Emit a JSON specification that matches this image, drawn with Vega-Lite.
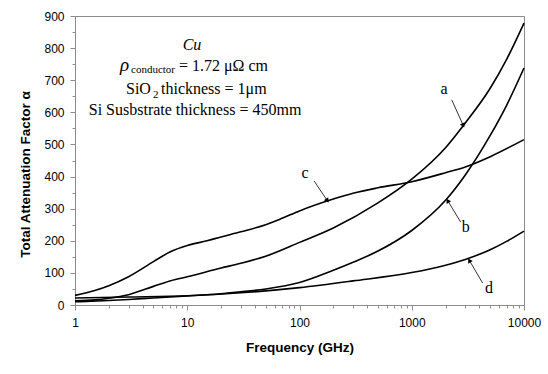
{
  "$schema": "https://vega.github.io/schema/vega-lite/v6.json",
  "width": 449,
  "height": 289,
  "autosize": {"type": "none"},
  "padding": {"left": 75, "top": 16, "right": 24, "bottom": 69},
  "background": "white",
  "config": {
    "view": {"stroke": "#8c8c8c", "strokeWidth": 1},
    "font": "Liberation Sans"
  },
  "datasets": {
    "curves": [
      {"s": "a", "f": 1, "v": 13}, {"s": "a", "f": 1.5, "v": 16}, {"s": "a", "f": 2, "v": 21}, {"s": "a", "f": 3, "v": 32}, {"s": "a", "f": 5, "v": 58}, {"s": "a", "f": 7, "v": 75}, {"s": "a", "f": 10, "v": 88}, {"s": "a", "f": 20, "v": 115}, {"s": "a", "f": 30, "v": 130}, {"s": "a", "f": 50, "v": 152}, {"s": "a", "f": 100, "v": 195}, {"s": "a", "f": 200, "v": 240}, {"s": "a", "f": 500, "v": 318}, {"s": "a", "f": 1000, "v": 392}, {"s": "a", "f": 2000, "v": 490}, {"s": "a", "f": 3000, "v": 567}, {"s": "a", "f": 5000, "v": 675}, {"s": "a", "f": 7000, "v": 765}, {"s": "a", "f": 10000, "v": 878},
      {"s": "b", "f": 1, "v": 10}, {"s": "b", "f": 2, "v": 14}, {"s": "b", "f": 3, "v": 17}, {"s": "b", "f": 5, "v": 22}, {"s": "b", "f": 10, "v": 28}, {"s": "b", "f": 20, "v": 35}, {"s": "b", "f": 30, "v": 41}, {"s": "b", "f": 50, "v": 50}, {"s": "b", "f": 100, "v": 70}, {"s": "b", "f": 200, "v": 108}, {"s": "b", "f": 300, "v": 133}, {"s": "b", "f": 500, "v": 168}, {"s": "b", "f": 1000, "v": 232}, {"s": "b", "f": 2000, "v": 326}, {"s": "b", "f": 3000, "v": 405}, {"s": "b", "f": 5000, "v": 528}, {"s": "b", "f": 7000, "v": 622}, {"s": "b", "f": 10000, "v": 738},
      {"s": "c", "f": 1, "v": 30}, {"s": "c", "f": 1.5, "v": 45}, {"s": "c", "f": 2, "v": 60}, {"s": "c", "f": 3, "v": 88}, {"s": "c", "f": 5, "v": 135}, {"s": "c", "f": 7, "v": 165}, {"s": "c", "f": 10, "v": 185}, {"s": "c", "f": 15, "v": 200}, {"s": "c", "f": 20, "v": 212}, {"s": "c", "f": 30, "v": 228}, {"s": "c", "f": 50, "v": 250}, {"s": "c", "f": 70, "v": 270}, {"s": "c", "f": 100, "v": 293}, {"s": "c", "f": 200, "v": 330}, {"s": "c", "f": 300, "v": 348}, {"s": "c", "f": 500, "v": 365}, {"s": "c", "f": 1000, "v": 384}, {"s": "c", "f": 2000, "v": 412}, {"s": "c", "f": 3000, "v": 430}, {"s": "c", "f": 5000, "v": 462}, {"s": "c", "f": 10000, "v": 515},
      {"s": "d", "f": 1, "v": 22}, {"s": "d", "f": 3, "v": 25}, {"s": "d", "f": 10, "v": 29}, {"s": "d", "f": 30, "v": 38}, {"s": "d", "f": 100, "v": 54}, {"s": "d", "f": 300, "v": 75}, {"s": "d", "f": 1000, "v": 101}, {"s": "d", "f": 2000, "v": 124}, {"s": "d", "f": 3000, "v": 142}, {"s": "d", "f": 5000, "v": 172}, {"s": "d", "f": 7000, "v": 198}, {"s": "d", "f": 10000, "v": 230}
    ],
    "arrows": [
      {"label": "a", "f": 2270, "v": 639, "f2": 2878, "v2": 559},
      {"label": "b", "f": 2730, "v": 258, "f2": 2090, "v2": 325},
      {"label": "c", "f": 135, "v": 386, "f2": 177, "v2": 325},
      {"label": "d", "f": 4285, "v": 68, "f2": 3258, "v2": 139}
    ],
    "heads": [
      {"label": "a", "f": 2878, "v": 559},
      {"label": "b", "f": 2090, "v": 325},
      {"label": "c", "f": 177, "v": 325},
      {"label": "d", "f": 3258, "v": 139}
    ],
    "labels": [
      {"label": "a", "f": 1937, "v": 674},
      {"label": "b", "f": 3025, "v": 242},
      {"label": "c", "f": 112, "v": 412},
      {"label": "d", "f": 4880, "v": 52}
    ],
    "notes": [
      {"kind": "italc", "txt": "Cu", "f": 11.02, "v": 795},
      {"kind": "rho", "txt": "ρ", "f": 2.517, "v": 730},
      {"kind": "sub", "txt": "conductor", "f": 3.155, "v": 721},
      {"kind": "main", "txt": "= 1.72 μΩ cm", "f": 8.44, "v": 730},
      {"kind": "main", "txt": "SiO", "f": 2.847, "v": 658},
      {"kind": "sub", "txt": "2", "f": 4.95, "v": 646},
      {"kind": "main", "txt": "thickness = 1μm", "f": 5.84, "v": 658},
      {"kind": "center", "txt": "Si Susbstrate thickness = 450mm", "f": 11.73, "v": 592}
    ]
  },
  "encoding": {
    "x": {
      "field": "f", "type": "quantitative",
      "scale": {"type": "log", "domain": [1, 10000], "nice": false},
      "axis": {
        "title": "Frequency (GHz)",
        "values": [1,2,3,4,5,6,7,8,9,10,20,30,40,50,60,70,80,90,100,200,300,400,500,600,700,800,900,1000,2000,3000,4000,5000,6000,7000,8000,9000,10000],
        "labelExpr": "indexof([1,10,100,1000,10000], datum.value) >= 0 ? format(datum.value, 'd') : ''",
        "labelOverlap": false,
        "labelFlush": false,
        "labelFont": "Liberation Sans", "labelFontSize": 12, "labelColor": "#000",
        "labelPadding": 7,
        "tickSize": {"condition": {"test": "indexof([1,10,100,1000,10000], datum.value) >= 0", "value": 5}, "value": 3},
        "tickColor": "#8c8c8c",
        "domainColor": "#8c8c8c",
        "grid": false,
        "titleFont": "Liberation Sans", "titleFontSize": 13.5, "titleFontWeight": "bold", "titleColor": "#000",
        "titleBaseline": "middle",
        "titleY": 42
      }
    },
    "y": {
      "field": "v", "type": "quantitative",
      "scale": {"domain": [0, 900], "nice": false},
      "axis": {
        "title": "Total Attenuation Factor α",
        "values": [0,50,100,150,200,250,300,350,400,450,500,550,600,650,700,750,800,850,900],
        "labelExpr": "datum.value % 100 === 0 ? datum.label : ''",
        "labelOverlap": false,
        "labelFlush": false,
        "labelFont": "Liberation Sans", "labelFontSize": 12, "labelColor": "#000",
        "labelPadding": 6,
        "tickSize": {"condition": {"test": "datum.value % 100 === 0", "value": 5}, "value": 3},
        "tickColor": "#8c8c8c",
        "domainColor": "#8c8c8c",
        "grid": false,
        "titleFont": "Liberation Sans", "titleFontSize": 13.5, "titleFontWeight": "bold", "titleColor": "#000",
        "titleBaseline": "middle",
        "titleAlign": "center",
        "titleAngle": -90,
        "titleX": -50,
        "titleY": 158
      }
    }
  },
  "layer": [
    {
      "data": {"name": "curves"},
      "mark": {"type": "line", "color": "#000", "strokeWidth": 1.6, "interpolate": "monotone"},
      "encoding": {"detail": {"field": "s"}}
    },
    {
      "data": {"name": "arrows"},
      "mark": {"type": "rule", "color": "#333", "strokeWidth": 1},
      "encoding": {"x2": {"field": "f2"}, "y2": {"field": "v2"}}
    },
    {
      "data": {"name": "heads"},
      "transform": [{"filter": "datum.label === 'a'"}],
      "mark": {"type": "point", "shape": "triangle-up", "filled": true, "color": "#000", "size": 28, "angle": 156, "opacity": 1},
      "encoding": {}
    },
    {
      "data": {"name": "heads"},
      "transform": [{"filter": "datum.label === 'b'"}],
      "mark": {"type": "point", "shape": "triangle-up", "filled": true, "color": "#000", "size": 28, "angle": 329, "opacity": 1},
      "encoding": {}
    },
    {
      "data": {"name": "heads"},
      "transform": [{"filter": "datum.label === 'c'"}],
      "mark": {"type": "point", "shape": "triangle-up", "filled": true, "color": "#000", "size": 28, "angle": 145, "opacity": 1},
      "encoding": {}
    },
    {
      "data": {"name": "heads"},
      "transform": [{"filter": "datum.label === 'd'"}],
      "mark": {"type": "point", "shape": "triangle-up", "filled": true, "color": "#000", "size": 28, "angle": 329, "opacity": 1},
      "encoding": {}
    },
    {
      "data": {"name": "labels"},
      "mark": {"type": "text", "font": "Liberation Serif", "fontSize": 16, "color": "#000", "align": "center", "baseline": "middle"},
      "encoding": {"text": {"field": "label"}}
    },
    {
      "data": {"name": "notes"},
      "transform": [{"filter": "datum.kind === 'italc'"}],
      "mark": {"type": "text", "font": "Liberation Serif", "fontStyle": "italic", "fontSize": 16, "color": "#000", "align": "center", "baseline": "alphabetic"},
      "encoding": {"text": {"field": "txt"}}
    },
    {
      "data": {"name": "notes"},
      "transform": [{"filter": "datum.kind === 'rho'"}],
      "mark": {"type": "text", "font": "Liberation Serif", "fontStyle": "italic", "fontSize": 19, "color": "#000", "align": "left", "baseline": "alphabetic"},
      "encoding": {"text": {"field": "txt"}}
    },
    {
      "data": {"name": "notes"},
      "transform": [{"filter": "datum.kind === 'sub'"}],
      "mark": {"type": "text", "font": "Liberation Serif", "fontSize": 11, "color": "#000", "align": "left", "baseline": "alphabetic"},
      "encoding": {"text": {"field": "txt"}}
    },
    {
      "data": {"name": "notes"},
      "transform": [{"filter": "datum.kind === 'main'"}],
      "mark": {"type": "text", "font": "Liberation Serif", "fontSize": 16, "color": "#000", "align": "left", "baseline": "alphabetic"},
      "encoding": {"text": {"field": "txt"}}
    },
    {
      "data": {"name": "notes"},
      "transform": [{"filter": "datum.kind === 'center'"}],
      "mark": {"type": "text", "font": "Liberation Serif", "fontSize": 16, "color": "#000", "align": "center", "baseline": "alphabetic"},
      "encoding": {"text": {"field": "txt"}}
    }
  ]
}
